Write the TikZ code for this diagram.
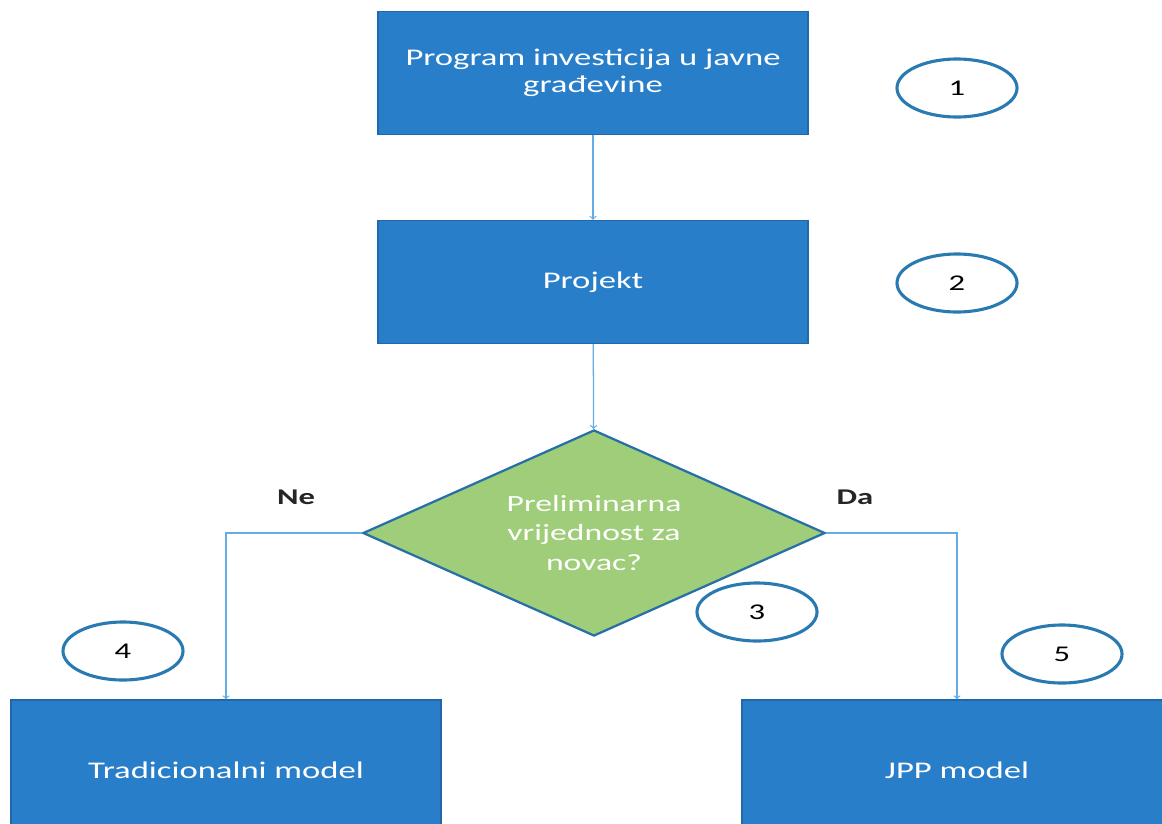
\documentclass[tikz,border=0pt]{standalone}
\usepackage{fontspec}
\setmainfont{Carlito}[FakeStretch=1.45]
\usepackage{tikz}
\usetikzlibrary{shapes.geometric, positioning, arrows}

\definecolor{boxblue}{RGB}{40,126,200}
\definecolor{boxedge}{RGB}{32,104,170}
\definecolor{linkblue}{RGB}{100,172,230}
\definecolor{diagreen}{RGB}{160,205,122}
\definecolor{diaedge}{RGB}{38,112,165}
\definecolor{ringblue}{RGB}{42,122,178}

\tikzset{
  block/.style={rectangle, draw=boxedge, line width=1pt, fill=boxblue, text=white,
    minimum width=10.75cm, minimum height=3.075cm, align=center,
    font=\fontsize{17}{19.5}\selectfont},
  decision/.style={diamond, aspect=2.24, draw=diaedge, line width=1.6pt, fill=diagreen,
    text=white, minimum width=11.55cm, minimum height=5.15cm, inner sep=0pt,
    align=center, font=\fontsize{16.5}{21}\selectfont},
  num/.style={ellipse, draw=ringblue, line width=2.2pt, fill=white,
    minimum width=3cm, minimum height=1.45cm, font=\fontsize{16}{19}\selectfont},
  answer/.style={font=\fontsize{16}{19}\selectfont\bfseries, text=black!85},
  link/.style={draw=linkblue, line width=0.9pt}
}

\begin{document}
\begin{tikzpicture}[x=0.025cm, y=-0.025cm]
    \useasboundingbox (0, 0) rectangle (1162, 823);

    \node[block] (p1) at (593, 73) {Program investicija u javne\\građevine};
    \node[block] (p2) at (593, 282) {Projekt};
    \node[decision] (d3) at (594, 533) {Preliminarna\\vrijednost za\\novac?};
    \node[block, minimum height=3.5cm] (m4) at (226, 770) {Tradicionalni model};
    \node[block, minimum height=3.5cm] (m5) at (957, 770) {JPP model};

    \node[num] (c1) at (957, 88) {1};
    \node[num] (c2) at (957, 283) {2};
    \node[num] (c3) at (757, 612) {3};
    \node[num] (c4) at (123, 651) {4};
    \node[num] (c5) at (1062, 654) {5};

    \node[answer] (ne) at (296, 497) {Ne};
    \node[answer] (da) at (855, 497) {Da};

    \draw[->, link] (p1) -- (p2);
    \draw[->, link] (p2) -- (d3);
    \draw[->, link] (d3.west) -| (m4.north);
    \draw[->, link] (d3.east) -| (m5.north);
\end{tikzpicture}
\end{document}
